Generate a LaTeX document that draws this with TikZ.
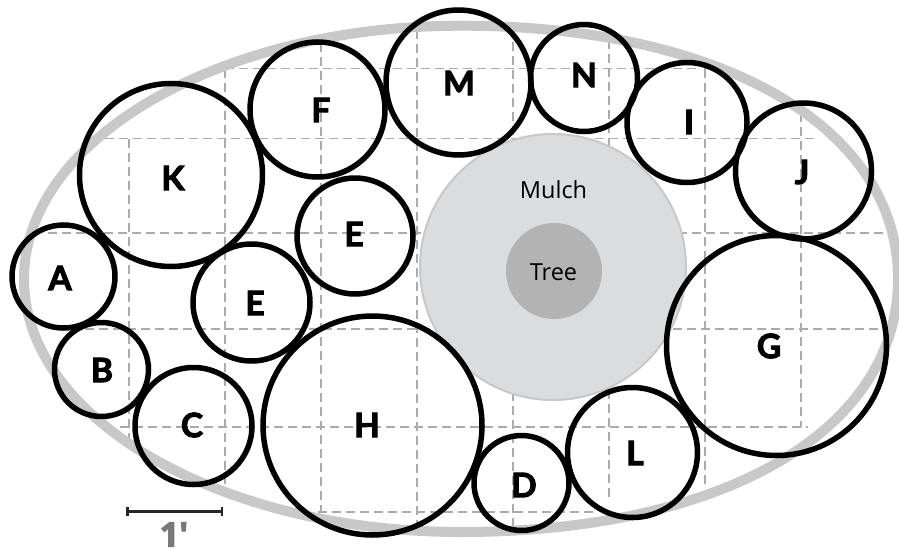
\documentclass[tikz,border=0pt]{standalone}
\usepackage{fontspec}
\setmainfont{Open Sans}
\newfontfamily\plantfont[FakeBold=3]{Lato Bold}
\newfontfamily\scalefont[FakeBold=3]{Open Sans Bold}
\usetikzlibrary{calc}
\definecolor{gridgray}{HTML}{ABABAB}
\definecolor{bedgray}{HTML}{C8C8C8}
\definecolor{mulchgray}{HTML}{DBDCDE}
\definecolor{treegray}{HTML}{B3B3B3}
\definecolor{scalegray}{HTML}{77787B}
\tikzset{
  x=1pt,y=-1pt,
  gridline/.style={draw=gridgray,line width=1.1pt,dash pattern=on 9pt off 5pt},
  bed/.style={draw=bedgray,line width=10pt},
  mulch/.style={draw=bedgray,line width=2pt,fill=mulchgray},
  plant/.style={draw=black,line width=5.5pt},
  plantlabel/.style={font=\plantfont\fontsize{33.5}{33.5}\selectfont,inner sep=0pt,text=black},
  smalllabel/.style={font=\fontsize{23.5}{26}\selectfont,inner sep=0pt,text=black},
  scalebar/.style={draw=black!85,line width=2.2pt},
  scalelabel/.style={font=\scalefont\fontsize{34}{34}\selectfont,inner sep=0pt,text=scalegray}
}
\begin{document}
\begin{tikzpicture}
\useasboundingbox (0,0) rectangle (899,551);
\clip (0,0) rectangle (899,551);
% grid
\draw[gridline] (225,68.5) -- (697,68.5);
\draw[gridline] (105,138.5) -- (817,138.5);
\draw[gridline] (48,233) -- (899,233);
\draw[gridline] (85,329) -- (883,329);
\draw[gridline] (120,427) -- (808,427);
\draw[gridline] (318,512) -- (593,512);
\draw[gridline] (129,138.5) -- (129,438);
\draw[gridline] (225,68.5) -- (225,488);
\draw[gridline] (321,43) -- (321,512);
\draw[gridline] (417,30) -- (417,530);
\draw[gridline] (513,28) -- (513,532);
\draw[gridline] (609,40) -- (609,502);
\draw[gridline] (705,68.5) -- (705,485);
\draw[gridline] (801,113) -- (801,427);
% bed outline: left half is a plain ellipse, right half bulges slightly
\draw[bed] (461,25.7)
  .. controls (461+0.60*437,25.7) and (898,279-0.60*253) .. (898,279)
  .. controls (898,279+0.60*253) and (461+0.60*437,532) .. (461,532)
  .. controls (461-0.5523*437,532) and (24,279+0.5523*253) .. (24,279)
  .. controls (24,279-0.5523*253) and (461-0.5523*437,25.7) .. cycle;
% mulch and tree
\draw[mulch] (553,267) circle [radius=133];
\fill[treegray] (554,271) circle [radius=48];
\node[smalllabel] (mulchlabel) at (553.5,190) {Mulch};
\node[smalllabel] (treelabel) at (553.5,272) {Tree};
% plants
\draw[plant] (171,175) circle [radius=91.5];
\draw[plant] (317.5,109.5) circle [radius=67.5];
\draw[plant] (458.5,82.5) circle [radius=72.5];
\draw[plant] (584,78) circle [radius=53.5];
\draw[plant] (687,122.5) circle [radius=60];
\draw[plant] (803.5,171) circle [radius=68];
\draw[plant] (776.5,345.5) circle [radius=110];
\draw[plant] (632.5,452.5) circle [radius=65];
\draw[plant] (521.5,483) circle [radius=47.5];
\draw[plant] (372.5,425.5) circle [radius=109.5];
\draw[plant] (251.5,302.5) circle [radius=58.5];
\draw[plant] (355,236) circle [radius=58];
\draw[plant] (63.5,276.5) circle [radius=51.5];
\draw[plant] (101.5,369.5) circle [radius=47];
\draw[plant] (193.5,426) circle [radius=58.5];
% labels
\node[plantlabel] (k) at (173,178) {K};
\node[plantlabel] (f) at (321,110) {F};
\node[plantlabel] (m) at (459,83) {M};
\node[plantlabel] (n) at (584,75) {N};
\node[plantlabel] (i) at (689,122) {I};
\node[plantlabel] (j) at (802,172) {J};
\node[plantlabel] (g) at (769,346) {G};
\node[plantlabel] (l) at (635,453) {L};
\node[plantlabel] (d) at (524,485) {D};
\node[plantlabel] (h) at (367,425) {H};
\node[plantlabel] (e1) at (354,234) {E};
\node[plantlabel] (e2) at (255,303) {E};
\node[plantlabel] (a) at (60,278) {A};
\node[plantlabel] (b) at (102,370) {B};
\node[plantlabel] (c) at (192,425) {C};
% scale
\coordinate (sl) at (127.5,511.5);
\coordinate (sr) at (222,511.5);
\draw[scalebar] (sl) -- (sr);
\draw[scalebar] ($(sl)+(0,-4.5)$) -- ($(sl)+(0,4.5)$);
\draw[scalebar] ($(sr)+(0,-4.5)$) -- ($(sr)+(0,4.5)$);
\node[scalelabel] (one) at (174,534.5) {1'};
\end{tikzpicture}
\end{document}
